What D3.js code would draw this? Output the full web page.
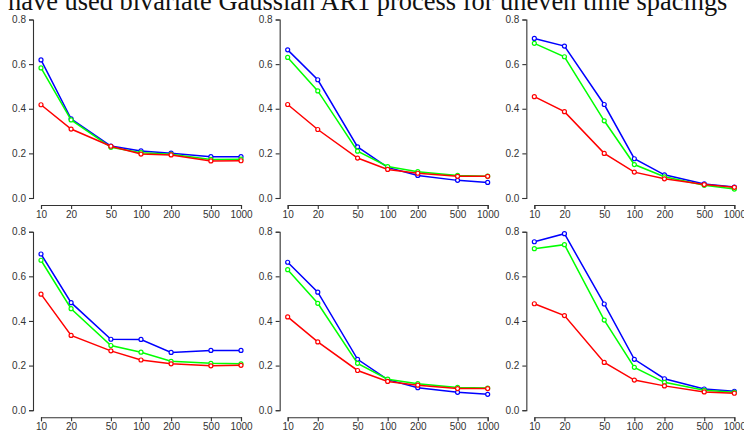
<!DOCTYPE html>
<html>
<head>
<meta charset="utf-8">
<script src="https://cdn.jsdelivr.net/npm/d3@7"></script>
<style>
  body { margin: 0; background: #fff; }
  svg { display: block; }
</style>
</head>
<body>
<div id="chart"></div>
<script>
const title = 'have used bivariate Gaussian AR1 process for uneven time spacings';
const sampleSizes = [10, 20, 50, 100, 200, 500, 1000];
const yTicks = [0, 0.2, 0.4, 0.6, 0.8];

// panel 1 (top left)
const blue1  = [0.619, 0.355, 0.233, 0.211, 0.201, 0.185, 0.185];
const green1 = [0.583, 0.350, 0.227, 0.203, 0.196, 0.173, 0.174];
const red1   = [0.418, 0.309, 0.232, 0.197, 0.193, 0.166, 0.167];
// panel 2 (top middle)
const blue2  = [0.664, 0.530, 0.229, 0.137, 0.101, 0.079, 0.070];
const green2 = [0.630, 0.480, 0.210, 0.141, 0.118, 0.101, 0.098];
const red2   = [0.419, 0.307, 0.179, 0.128, 0.111, 0.097, 0.097];
// panel 3 (top right)
const blue3  = [0.715, 0.681, 0.419, 0.176, 0.104, 0.063, 0.049];
const green3 = [0.693, 0.633, 0.346, 0.150, 0.095, 0.057, 0.040];
const red3   = [0.454, 0.387, 0.200, 0.116, 0.086, 0.060, 0.048];
// panel 4 (bottom left)
const blue4  = [0.700, 0.482, 0.318, 0.317, 0.259, 0.268, 0.268];
const green4 = [0.672, 0.455, 0.290, 0.260, 0.219, 0.210, 0.208];
const red4   = [0.520, 0.335, 0.266, 0.225, 0.208, 0.199, 0.201];
// panel 5 (bottom middle)
const blue5  = [0.663, 0.529, 0.228, 0.137, 0.101, 0.080, 0.071];
const green5 = [0.630, 0.479, 0.210, 0.139, 0.119, 0.102, 0.099];
const red5   = [0.418, 0.306, 0.178, 0.129, 0.112, 0.097, 0.097];
// panel 6 (bottom right)
const blue6  = [0.755, 0.791, 0.476, 0.228, 0.141, 0.095, 0.085];
const green6 = [0.724, 0.742, 0.404, 0.192, 0.125, 0.089, 0.080];
const red6   = [0.477, 0.424, 0.214, 0.135, 0.109, 0.082, 0.076];

const seriesColors = ['#0000ff', '#00ff00', '#ff0000'];
const panels = [
  [blue1, green1, red1], [blue2, green2, red2], [blue3, green3, red3],
  [blue4, green4, red4], [blue5, green5, red5], [blue6, green6, red6]
];

const width = 744, height = 430;
const colW = 246.67, rowH = 212.2;

const svg = d3.select('#chart').append('svg')
  .attr('width', width)
  .attr('height', height);

const x = d3.scaleLog().domain([10, 1000]).range([41, 241]);
const y = d3.scaleLinear().domain([0, 0.8]).range([198, 19.5]);

panels.forEach((series, i) => {
  const col = i % 3, row = Math.floor(i / 3);
  const g = svg.append('g')
    .attr('transform', `translate(${col * colW},${row * rowH})`);

  const yAxis = g.append('g')
    .attr('transform', 'translate(33,0)')
    .call(d3.axisLeft(y).tickValues(yTicks).tickFormat(d3.format('.1f')).tickSize(4).tickPadding(3));

  const xAxis = g.append('g')
    .attr('transform', 'translate(0,205)')
    .call(d3.axisBottom(x).tickValues(sampleSizes).tickFormat(d3.format('d')).tickSize(4).tickPadding(2));

  [yAxis, xAxis].forEach(ax => {
    ax.select('.domain').attr('stroke', '#333').attr('stroke-width', 1.1);
    ax.selectAll('.tick line').attr('stroke', '#333').attr('stroke-width', 1.1);
    ax.selectAll('.tick text')
      .attr('fill', '#333')
      .style('font-family', '"Liberation Sans", Arial, sans-serif')
      .style('font-size', '10px');
  });

  const line = d3.line()
    .x((d, j) => x(sampleSizes[j]))
    .y(d => y(d));

  series.forEach((vals, k) => {
    g.append('path')
      .datum(vals)
      .attr('fill', 'none')
      .attr('stroke', seriesColors[k])
      .attr('stroke-width', 1.5)
      .attr('d', line);
    g.append('g')
      .selectAll('circle')
      .data(vals)
      .join('circle')
      .attr('cx', (d, j) => x(sampleSizes[j]))
      .attr('cy', d => y(d))
      .attr('r', 2)
      .attr('fill', '#fff')
      .attr('stroke', seriesColors[k])
      .attr('stroke-width', 1.2);
  });
});

// title, cut off at the top as in the source
const t = svg.append('text')
  .attr('x', 8)
  .attr('y', 9.5)
  .style('font-family', '"Liberation Serif", "DejaVu Serif", serif')
  .style('font-size', '24px')
  .attr('fill', '#111')
  .text(title);
const w = t.node().getComputedTextLength();
t.style('font-size', (24 * 720 / w) + 'px');
</script>
</body>
</html>
